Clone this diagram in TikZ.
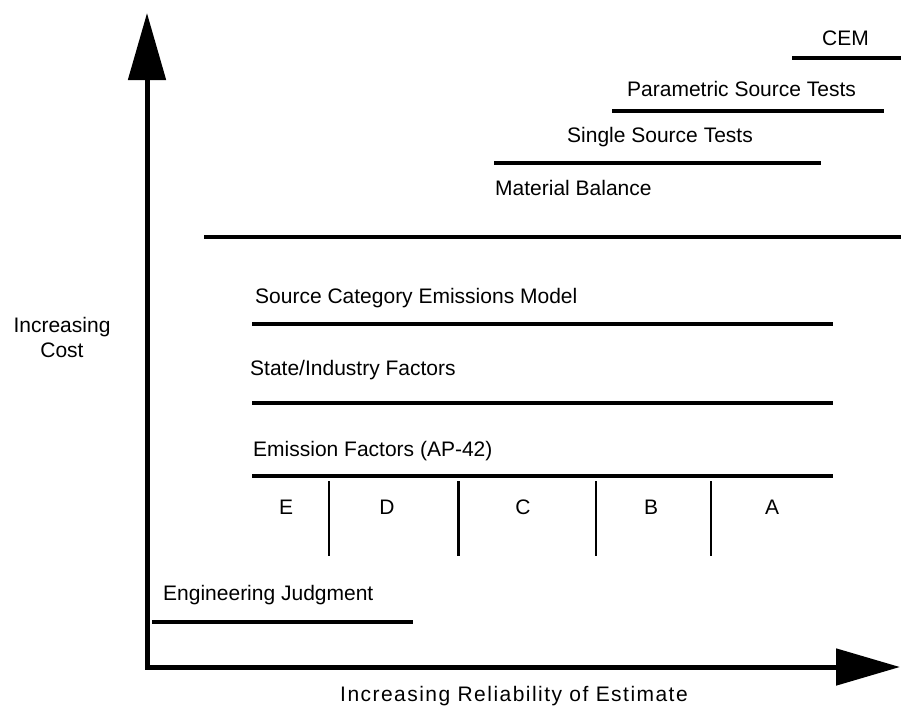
\documentclass[tikz,border=0pt]{standalone}
\usepackage{fontspec}
\setmainfont{Liberation Sans}
\newfontfamily\widefont[LetterSpace=7]{Liberation Sans}
\usetikzlibrary{
    arrows.meta,
    positioning
}

\begin{document}
\begin{tikzpicture}[x=1pt, y=-1pt,
        font=\fontsize{21}{25}\selectfont,
        bar/.style={line width=3.5pt},
        lbl/.style={anchor=base west, inner sep=0pt}]
    \useasboundingbox (0, 0) rectangle (901, 707);
    % axes
    \draw[line width=5pt, {Triangle[length=67pt, width=37pt]}-{Triangle[length=64pt, width=36pt]}]
    (147, 13) -- (147, 667) -- (900, 667);
    \node[align=center] (cost) at (62, 337) {Increasing\\Cost};
    \node[anchor=base, inner sep=0pt] (reliab) at (514, 701) {\widefont Increasing Reliability of Estimate};
    % methods above the divide
    \draw[bar] (792, 58) -- (901, 58);
    \node[lbl] (cem) at (822, 45) {CEM};
    \draw[bar] (612, 111) -- (884, 111);
    \node[lbl] (param) at (627, 96) {Parametric Source Tests};
    \node[lbl] (single) at (567, 142) {Single Source Tests};
    \draw[bar] (494, 163) -- (821, 163);
    \node[lbl] (matbal) at (495, 195) {Material Balance};
    \draw[bar] (204, 237) -- (901, 237);
    % methods below the divide
    \node[lbl] (scem) at (255, 303) {Source Category Emissions Model};
    \draw[bar] (252, 324) -- (833, 324);
    \node[lbl] (state) at (250, 375) {State/Industry Factors};
    \draw[bar] (252, 403) -- (833, 403);
    \node[lbl] (ap42) at (253, 456) {Emission Factors (AP-42)};
    \draw[bar] (252, 476) -- (833, 476);
    \foreach \x/\w in {329/1.4, 458/3, 596/1.4, 711/1.4} {
        \draw[line width=\w pt] (\x, 481) -- (\x, 556);
    }
    \foreach \x/\r in {286/E, 387/D, 523/C, 651/B, 772/A} {
        \node[anchor=base] (rating\r) at (\x, 514) {\r};
    }
    \node[lbl] (engj) at (163, 600) {Engineering Judgment};
    \draw[bar] (152, 622) -- (413, 622);
\end{tikzpicture}
\end{document}
